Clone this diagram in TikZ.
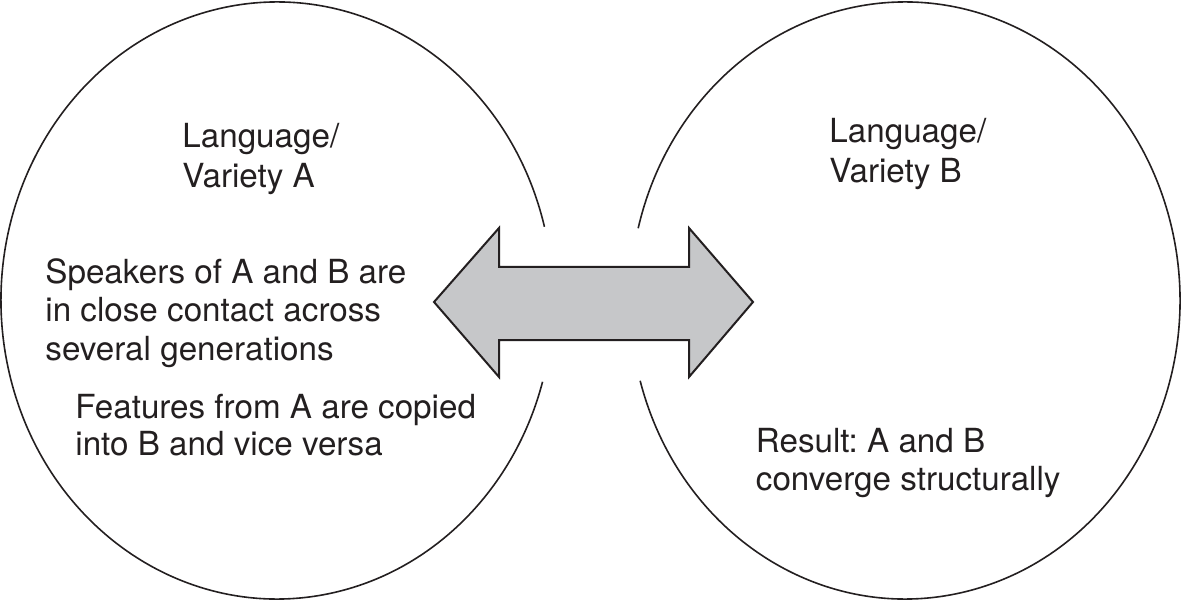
\documentclass[tikz,border=0pt]{standalone}
\usepackage{fontspec}
\setmainfont{TeX Gyre Heros}
\usetikzlibrary{positioning}
\definecolor{arrowgray}{RGB}{198,199,201}
\definecolor{inkblack}{RGB}{35,31,32}
\frenchspacing

\begin{document}
\begin{tikzpicture}[
        x=0.5pt, y=0.5pt,
        ring/.style={draw=inkblack, line width=0.8pt},
        txt/.style={inner sep=0pt, anchor=base west, align=left, text=inkblack, font=\fontsize{16.6}{18.4}\selectfont},
        heading/.style={txt, font=\fontsize{16.6}{20}\selectfont},
        bigarrow/.style={draw=inkblack, fill=arrowgray, line width=1pt, line join=miter}
    ]
    \useasboundingbox (0,0) rectangle (1181,600);
    % the two varieties, open where the arrow passes
    \coordinate (cA) at (277,299.5);
    \coordinate (cB) at (905,299.5);
    \draw[ring] (cA) ++(14.3:138pt and 149.25pt) arc[start angle=14.3, end angle=344.2, x radius=138pt, y radius=149.25pt];
    \draw[ring] (cB) ++(195.6:137.5pt and 149.25pt) arc[start angle=195.6, end angle=526, x radius=137.5pt, y radius=149.25pt];

    % texts are placed by the baseline of their last line
    \node[heading] (langA) at (182,412.5) {Language/\\Variety A};
    \node[heading] (langB) at (829,417) {Language/\\Variety B};
    \node[txt, font=\fontsize{16.6}{19.1}\selectfont] (contact) at (45,240) {Speakers of A and B are\\in close contact across\\several generations};
    \node[txt] (copy) at (75,145) {Features from A are copied\\into B and vice versa};
    \node[txt, font=\fontsize{16.6}{18.6}\selectfont] (result) at (755.5,110) {Result: A and B\\converge structurally};

    % contact in both directions
    \draw[bigarrow] (434,298) -- (499,372) -- (499,333) -- (689,333) -- (689,372) -- (753,298)
        -- (689,223) -- (689,260) -- (499,260) -- (499,223) -- cycle;
\end{tikzpicture}
\end{document}
